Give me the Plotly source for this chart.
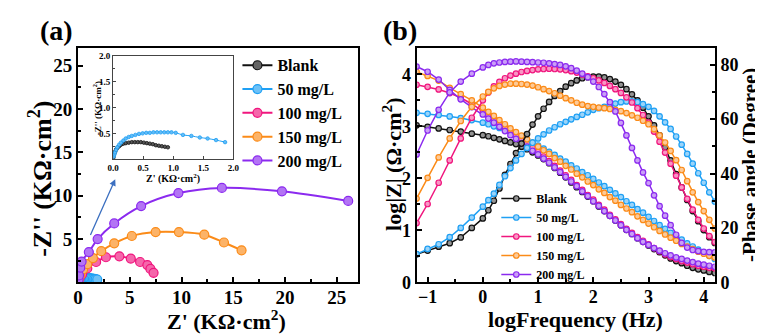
import plotly.graph_objects as go

# ---------------- data : panel (a) Nyquist ----------------
series_names = ["Blank", "50 mg/L", "100 mg/L", "150 mg/L", "200 mg/L"]

nyq_blank_x = [0.005, 0.01, 0.02, 0.035, 0.05, 0.07, 0.10, 0.13, 0.17, 0.21, 0.26, 0.31,
               0.36, 0.41, 0.46, 0.51, 0.56, 0.61, 0.66, 0.71, 0.76, 0.81, 0.86, 0.91]
nyq_blank_y = [0.03, 0.07, 0.11, 0.15, 0.19, 0.22, 0.25, 0.28, 0.30, 0.31, 0.32, 0.33,
               0.33, 0.33, 0.33, 0.32, 0.31, 0.30, 0.29, 0.27, 0.26, 0.25, 0.24, 0.23]

nyq_50_x = [0.01, 0.02, 0.03, 0.05, 0.07, 0.10, 0.13, 0.17, 0.21, 0.26, 0.31, 0.37, 0.43,
            0.49, 0.55, 0.61, 0.67, 0.73, 0.79, 0.85, 0.91, 0.97, 1.04, 1.16, 1.30, 1.44,
            1.57, 1.71, 1.86]
nyq_50_y = [0.05, 0.09, 0.13, 0.18, 0.23, 0.28, 0.32, 0.36, 0.40, 0.43, 0.45, 0.47, 0.49,
            0.50, 0.51, 0.51, 0.52, 0.52, 0.52, 0.52, 0.52, 0.52, 0.51, 0.47, 0.45, 0.42,
            0.40, 0.37, 0.33]

nyq_100_x = [0.0, 0.15, 0.4, 0.9, 1.75, 2.7, 4.0, 5.1, 6.0, 6.7, 7.0, 7.3]
nyq_100_y = [0.0, 0.45, 0.95, 1.6, 2.35, 2.9, 3.0, 2.75, 2.35, 2.0, 1.55, 1.1]

nyq_150_x = [0.05, 0.2, 0.5, 0.9, 1.45, 2.25, 3.5, 5.2, 7.5, 9.75, 12.2, 14.1, 15.8]
nyq_150_y = [0.2, 0.8, 1.5, 2.1, 2.8, 3.6, 4.5, 5.35, 5.8, 5.8, 5.5, 4.6, 3.7]

nyq_200_x = [0.05, 0.1, 0.22, 0.35, 1.05, 1.9, 3.5, 6.1, 9.7, 13.9, 19.7, 26.1]
nyq_200_y = [0.3, 0.8, 1.7, 2.4, 3.5, 5.0, 6.8, 8.8, 10.3, 10.9, 10.5, 9.4]

# ---------------- data : panel (b) Bode ----------------
logf = [-1.2, -1.0, -0.8, -0.6, -0.4, -0.2,
        0.0, 0.1, 0.2, 0.3, 0.4, 0.5, 0.6, 0.7, 0.8, 0.9,
        1.0, 1.1, 1.2, 1.3, 1.4, 1.5, 1.6, 1.7, 1.8, 1.9,
        2.0, 2.1, 2.2, 2.3, 2.4, 2.5, 2.6, 2.7, 2.8, 2.9,
        3.0, 3.1, 3.2, 3.3, 3.4, 3.5, 3.6, 3.7, 3.8, 3.9,
        4.0, 4.1, 4.2]

logz_blank = [3.02, 2.99, 2.96, 2.93, 2.90, 2.86,
              2.83, 2.81, 2.78, 2.75, 2.72, 2.69, 2.66, 2.61, 2.56, 2.50,
              2.44, 2.37, 2.29, 2.20, 2.11, 2.02, 1.92, 1.83, 1.74, 1.65,
              1.56, 1.46, 1.37, 1.28, 1.19, 1.10, 1.01, 0.93, 0.85, 0.78,
              0.71, 0.64, 0.58, 0.52, 0.46, 0.41, 0.37, 0.32, 0.28, 0.25,
              0.23, 0.20, 0.18]
logz_50 = [3.26, 3.24, 3.22, 3.19, 3.16, 3.12,
           3.07, 3.04, 3.00, 2.97, 2.93, 2.89, 2.85, 2.80, 2.75, 2.69,
           2.63, 2.57, 2.51, 2.45, 2.38, 2.32, 2.25, 2.19, 2.12, 2.06,
           1.99, 1.92, 1.85, 1.78, 1.71, 1.64, 1.56, 1.49, 1.41, 1.34,
           1.26, 1.18, 1.10, 1.03, 0.95, 0.88, 0.82, 0.75, 0.69, 0.63,
           0.57, 0.51, 0.45]
logz_100 = [3.80, 3.76, 3.71, 3.64, 3.55, 3.43,
            3.30, 3.22, 3.14, 3.06, 2.98, 2.91, 2.83, 2.75, 2.67, 2.59,
            2.51, 2.42, 2.33, 2.24, 2.15, 2.06, 1.97, 1.87, 1.78, 1.68,
            1.59, 1.49, 1.40, 1.30, 1.21, 1.12, 1.03, 0.95, 0.87, 0.80,
            0.73, 0.66, 0.60, 0.54, 0.49, 0.45, 0.41, 0.38, 0.35, 0.32,
            0.30, 0.28, 0.27]
logz_150 = [4.05, 3.97, 3.88, 3.74, 3.62, 3.50,
            3.36, 3.28, 3.20, 3.12, 3.04, 2.96, 2.89, 2.82, 2.75, 2.68,
            2.61, 2.54, 2.47, 2.39, 2.32, 2.24, 2.17, 2.09, 2.02, 1.94,
            1.87, 1.79, 1.72, 1.64, 1.57, 1.49, 1.42, 1.35, 1.27, 1.20,
            1.13, 1.06, 0.99, 0.92, 0.86, 0.80, 0.74, 0.69, 0.64, 0.59,
            0.55, 0.51, 0.48]
logz_200 = [4.15, 4.05, 3.90, 3.70, 3.52, 3.37,
            3.23, 3.15, 3.07, 2.99, 2.91, 2.83, 2.76, 2.68, 2.61, 2.53,
            2.46, 2.38, 2.30, 2.21, 2.12, 2.03, 1.94, 1.85, 1.75, 1.66,
            1.56, 1.47, 1.37, 1.28, 1.19, 1.10, 1.01, 0.93, 0.85, 0.78,
            0.72, 0.66, 0.61, 0.56, 0.52, 0.48, 0.45, 0.42, 0.39, 0.36,
            0.34, 0.32, 0.30]

phase_blank = [10.3, 11.7, 13.1, 14.4, 16.5, 20.0,
               23.5, 26.5, 30.0, 34.5, 39.5, 43.5, 47.5, 51.0, 54.5, 58.0,
               61.0, 63.8, 66.3, 68.5, 70.3, 71.9, 73.2, 74.2, 75.0, 75.4,
               75.6, 75.6, 75.3, 74.7, 73.8, 72.6, 71.0, 69.1, 66.9, 64.2,
               61.0, 57.7, 54.0, 49.6, 44.8, 39.8, 34.9, 30.3, 26.2, 22.5,
               19.2, 16.6, 14.5]
phase_50 = [10.4, 12.3, 14.0, 16.6, 20.0, 23.8,
            27.8, 30.2, 32.6, 35.8, 39.0, 42.0, 44.8, 47.2, 49.4, 51.3,
            52.9, 54.4, 55.8, 57.0, 58.1, 59.0, 59.9, 60.8, 61.6, 62.5,
            63.4, 64.0, 64.5, 65.1, 65.7, 66.2, 66.5, 66.5, 66.2, 65.5,
            64.5, 63.0, 61.0, 58.8, 56.4, 53.6, 50.6, 47.2, 43.6, 40.1,
            36.6, 33.1, 29.7]
phase_100 = [21.8, 28.8, 36.6, 44.8, 52.9, 60.5,
             66.9, 69.8, 72.0, 73.7, 75.0, 76.0, 76.7, 77.3, 77.7, 78.0,
             78.3, 78.4, 78.5, 78.4, 78.3, 78.0, 77.6, 77.1, 76.4, 75.7,
             75.0, 74.2, 73.3, 72.2, 71.0, 69.6, 68.0, 66.1, 64.0, 61.5,
             58.7, 55.4, 51.7, 47.7, 43.6, 39.2, 34.9, 30.7, 26.7, 23.0,
             19.8, 17.0, 14.8]
phase_150 = [30.8, 38.4, 45.9, 52.9, 59.3, 64.5,
             68.3, 70.0, 71.3, 72.2, 72.7, 73.0, 73.0, 72.9, 72.7, 72.3,
             71.7, 71.0, 70.3, 69.5, 68.6, 67.7, 66.9, 66.0, 65.3, 64.8,
             64.5, 64.2, 64.0, 63.7, 63.4, 62.9, 62.2, 61.4, 60.5, 59.4,
             58.1, 56.3, 54.0, 51.4, 48.3, 44.9, 41.3, 37.2, 33.1, 29.5,
             26.2, 23.0, 19.8]
phase_200 = [47.0, 55.8, 63.4, 69.8, 73.8, 76.7,
             79.0, 79.9, 80.5, 80.8, 81.0, 81.1, 81.2, 81.1, 81.0, 80.9,
             80.8, 80.7, 80.5, 80.2, 79.9, 79.4, 78.7, 77.8, 76.7, 75.4,
             73.8, 71.8, 69.2, 66.2, 62.8, 58.6, 54.0, 49.4, 44.8, 40.4,
             36.5, 32.0, 28.0, 24.5, 21.0, 17.5, 14.5, 12.8, 11.9, 11.5,
             11.2, 11.1, 11.0]

# tick labels
a_xticks = [0, 5, 10, 15, 20, 25]
a_yticks = [5, 10, 15, 20, 25]
inset_xticks = [0.0, 0.5, 1.0, 1.5, 2.0]
inset_yticks = [0.5, 1.0, 1.5, 2.0]
b_xticks = [-1, 0, 1, 2, 3, 4]
b_yticks = [0, 1, 2, 3, 4]
b_y2ticks = [0, 20, 40, 60, 80]

# ---------------- styling ----------------
colors = ["#111111", "#1fa0f4", "#f0167e", "#fb8b18", "#8b2aef"]
FONT = "Liberation Serif"
W, H = 763, 335


def tint(hx, f):
    r, g, b = int(hx[1:3], 16), int(hx[3:5], 16), int(hx[5:7], 16)
    r, g, b = [int(c + (255 - c) * f) for c in (r, g, b)]
    return f"rgb({r},{g},{b})"


def px_x(p):
    return p / W


def px_y(p):
    return 1 - p / H


fig = go.Figure()

nyq = [(nyq_blank_x, nyq_blank_y), (nyq_50_x, nyq_50_y), (nyq_100_x, nyq_100_y),
       (nyq_150_x, nyq_150_y), (nyq_200_x, nyq_200_y)]

# main Nyquist
for i, (xs, ys) in enumerate(nyq):
    fig.add_trace(go.Scatter(
        x=xs, y=ys, mode="lines+markers", name=series_names[i],
        line=dict(color=colors[i], width=2, shape="spline", smoothing=0.8),
        marker=dict(size=9, color=tint(colors[i], 0.35), line=dict(color=colors[i], width=1.2)),
        xaxis="x", yaxis="y", legend="legend"))

# inset (Blank and 50 mg/L)
for i in (0, 1):
    xs, ys = nyq[i]
    fig.add_trace(go.Scatter(
        x=xs, y=ys, mode="lines+markers", name=series_names[i], showlegend=False,
        line=dict(color=colors[i], width=1, shape="spline", smoothing=0.8),
        marker=dict(size=3.5, color=tint(colors[i], 0.3), line=dict(color=colors[i], width=0.8)),
        xaxis="x2", yaxis="y2"))

# Bode
logz = [logz_blank, logz_50, logz_100, logz_150, logz_200]
phase = [phase_blank, phase_50, phase_100, phase_150, phase_200]
for i in range(5):
    fig.add_trace(go.Scatter(
        x=logf, y=logz[i], mode="lines+markers", name=series_names[i],
        line=dict(color=colors[i], width=1.5),
        marker=dict(size=5.5, color=tint(colors[i], 0.55), line=dict(color=colors[i], width=1.2)),
        xaxis="x3", yaxis="y3", legend="legend2"))
for i in range(5):
    fig.add_trace(go.Scatter(
        x=logf, y=phase[i], mode="lines+markers", name=series_names[i], showlegend=False,
        line=dict(color=colors[i], width=1.5),
        marker=dict(size=5.5, color=tint(colors[i], 0.55), line=dict(color=colors[i], width=1.2)),
        xaxis="x3", yaxis="y4"))

ax_common = dict(showline=True, linecolor="black", linewidth=2, mirror=True,
                 ticks="inside", ticklen=5, tickwidth=2, tickcolor="black",
                 showgrid=False, zeroline=False,
                 tickfont=dict(family=FONT, size=19, color="black", weight="bold"))
b_tickfont = dict(family=FONT, size=18, color="black", weight="bold")
minor_style = dict(ticks="inside", ticklen=3, tickwidth=1.5, tickcolor="black")

ya_dom = [px_y(282), px_y(37)]

fig.update_layout(
    width=W, height=H, margin=dict(l=0, r=0, t=0, b=0),
    paper_bgcolor="white", plot_bgcolor="white",
    xaxis=dict(ax_common, domain=[px_x(65), px_x(349)], range=[0, 27], anchor="y",
               tickmode="array", tickvals=a_xticks, ticklabelstandoff=-3,
               minor=dict(minor_style, tickmode="array", tickvals=[2.5, 7.5, 12.5, 17.5, 22.5])),
    yaxis=dict(ax_common, domain=ya_dom, range=[0, 27], anchor="x",
               tickmode="array", tickvals=a_yticks,
               minor=dict(minor_style, tickmode="array", tickvals=[2.5, 7.5, 12.5, 17.5, 22.5])),
    xaxis2=dict(showline=True, linecolor="#444", linewidth=1, mirror=True, ticks="inside",
                ticklen=3, tickwidth=1, tickcolor="#444", showgrid=False, zeroline=False,
                domain=[px_x(100.7), px_x(223)], range=[0, 2.0], anchor="y2",
                tickmode="array", tickvals=inset_xticks,
                ticktext=["0.0", "0.5", "1.0", "1.5", "2.0"],
                tickfont=dict(family=FONT, size=9, color="black", weight="bold")),
    yaxis2=dict(showline=True, linecolor="#444", linewidth=1, mirror=True, ticks="inside",
                ticklen=3, tickwidth=1, tickcolor="#444", showgrid=False, zeroline=False,
                domain=[px_y(153), px_y(45)], range=[0, 2.0], anchor="x2",
                tickmode="array", tickvals=inset_yticks,
                ticktext=["0.5", "1.0", "1.5", "2.0"],
                minor=dict(tickmode="array", tickvals=[0.25, 0.75, 1.25, 1.75],
                           ticks="inside", ticklen=2, tickwidth=1, tickcolor="#444"),
                tickfont=dict(family=FONT, size=9, color="black", weight="bold")),
    xaxis3=dict(ax_common, domain=[px_x(409), px_x(712)], range=[-1.2, 4.2], anchor="y3",
                tickmode="array", tickvals=b_xticks, tickfont=b_tickfont, ticklabelstandoff=-3,
                minor=dict(minor_style, tickmode="array", tickvals=[-0.5, 0.5, 1.5, 2.5, 3.5])),
    yaxis3=dict(ax_common, domain=ya_dom, range=[0, 4.5], anchor="x3",
                tickmode="array", tickvals=b_yticks, tickfont=b_tickfont,
                minor=dict(minor_style, tickmode="array", tickvals=[0.5, 1.5, 2.5, 3.5])),
    yaxis4=dict(ax_common, range=[0, 86], anchor="x3", overlaying="y3", side="right",
                mirror=False, tickmode="array", tickvals=b_y2ticks, tickfont=b_tickfont,
                minor=dict(minor_style, tickmode="array", tickvals=[10, 30, 50, 70])),
    legend=dict(x=px_x(227), y=px_y(37), xanchor="left", yanchor="top",
                bgcolor="rgba(0,0,0,0)", itemwidth=30, tracegroupgap=0,
                font=dict(family=FONT, size=16, color="black", weight="bold")),
    legend2=dict(x=px_x(490), y=px_y(179), xanchor="left", yanchor="top",
                 bgcolor="rgba(0,0,0,0)", itemwidth=30, tracegroupgap=0,
                 font=dict(family=FONT, size=12, color="black", weight="bold")),
)

title_font = dict(family=FONT, color="black", weight="bold")
annos = [
    dict(text="(a)", x=px_x(43), y=px_y(18), size=28, angle=0),
    dict(text="(b)", x=px_x(392), y=px_y(18), size=28, angle=0),
    dict(text="Z' (KΩ·cm<sup>2</sup>)", x=px_x(216), y=px_y(321), size=22, angle=0),
    dict(text="-Z'' (KΩ·cm<sup>2</sup>)", x=px_x(27), y=px_y(174), size=26, angle=-90),
    dict(text="logFrequency (Hz)", x=px_x(570), y=px_y(321), size=22, angle=0),
    dict(text="log|Z| (Ω·cm<sup>2</sup>)", x=px_x(384), y=px_y(158), size=22, angle=-90),
    dict(text="-Phase angle (Degree)", x=px_x(748), y=px_y(159), size=21, angle=-90),
    dict(text="Z' (KΩ·cm<sup>2</sup>)", x=px_x(162), y=px_y(173), size=10, angle=0),
    dict(text="-Z'' (KΩ·cm<sup>2</sup>)", x=px_x(84), y=px_y(100), size=9, angle=-90),
]
for a in annos:
    fig.add_annotation(text=a["text"], x=a["x"], y=a["y"], xref="paper", yref="paper",
                       showarrow=False, textangle=a["angle"], xanchor="center", yanchor="middle",
                       font=dict(title_font, size=a["size"]))

# zoom arrow pointing to the inset
fig.add_annotation(x=3.6, y=11.9, ax=1.14, ay=5.3, xref="x", yref="y", axref="x", ayref="y",
                   showarrow=True, arrowhead=2, arrowsize=1, arrowwidth=1.3,
                   arrowcolor="#3b6fc0", text="")

fig.write_html("out.html")
